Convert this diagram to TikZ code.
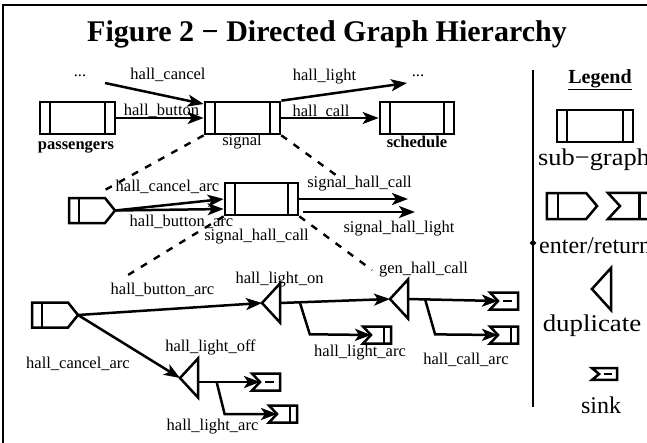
\documentclass[tikz,border=0pt]{standalone}
\usepackage{fontspec}
\setmainfont{Liberation Serif}
\usetikzlibrary{arrows.meta,calc,shapes.geometric}
\begin{document}
\begin{tikzpicture}[x=1pt,y=-1pt,
  wire/.style={line width=2.5pt},
  arr/.style={wire,-{Stealth[length=16pt,width=12pt,inset=4pt]}},
  dashline/.style={line width=2.4pt,dash pattern=on 7pt off 8pt},
  lbl/.style={font=\fontsize{16.5}{18}\selectfont,inner sep=0pt},
  blbl/.style={font=\fontsize{16.5}{18}\selectfont\bfseries,inner sep=0pt},
  leg/.style={font=\fontsize{24}{26}\selectfont,inner sep=0pt},
  subg/.style={draw,line width=2.7pt,minimum width=75pt,minimum height=32pt,inner sep=0pt,
    path picture={\draw[line width=2.7pt]
      ([xshift=10pt]path picture bounding box.north west) -- ([xshift=10pt]path picture bounding box.south west)
      ([xshift=-10pt]path picture bounding box.north east) -- ([xshift=-10pt]path picture bounding box.south east);}},
  enter/.pic={
    \draw[wire] (-23,-12.5) -- (13,-12.5) -- (23,0) -- (13,12.5) -- (-23,12.5) -- cycle;
    \draw[wire] (-13,-12.5) -- (-13,12.5);
    \coordinate (-tip) at (23,0);},
  dup/.pic={
    \draw[wire] (0,-19.5) -- (-18,0) -- (0,19.5) -- cycle;
    \coordinate (-tip) at (-18,0);
    \coordinate (-out) at (0,0);},
  sink/.pic={
    \draw[wire] (-14,-8.5) -- (14,-8.5) -- (14,8.5) -- (-14,8.5) -- (-6,0) -- cycle;
    \draw[wire] (-1,0) -- (8,0);
    \coordinate (-in) at (-6,0);},
  ret/.pic={
    \draw[wire] (-14,-8.5) -- (14,-8.5) -- (14,8.5) -- (-14,8.5) -- (-6,0) -- cycle;
    \draw[wire] (7,-8.5) -- (7,8.5);
    \coordinate (-in) at (-6,0);}
]
\useasboundingbox (0,0) rectangle (647,442);
\begin{scope}
\clip (0,0) rectangle (647,442);
% outer frame
\draw[line width=2.5pt] (3,460) -- (3,5) -- (680,5);

% title
\node[font=\fontsize{30}{32}\selectfont\bfseries,inner sep=0pt] (title) at (327,34) {Figure 2 − Directed Graph Hierarchy};

% ---------- top level ----------
\node[subg] (passengers) at (77.5,118) {};
\node[subg] (signal) at (242.5,118) {};
\node[subg,minimum width=74pt] (schedule) at (417,118) {};
\node[blbl] (passLbl) at (76,147) {passengers};
\node[lbl] (sigLbl) at (242,142) {signal};
\node[blbl] (schLbl) at (417,142) {schedule};
\node[lbl] (dotsL) at (80,76) {...};
\node[lbl] (dotsR) at (418,76) {...};
\coordinate (cancelFrom) at (105,83);
\coordinate (lightTo) at (407,83);

\draw[arr] (cancelFrom) -- ([yshift=14pt]signal.west);
\draw[arr] (passengers.east) -- (signal.west);
\draw[arr] (signal.north east) -- (lightTo);
\draw[arr] (signal.east) -- (schedule.west);
\node[lbl] (l1a) at (168,75) {hall\_cancel};
\node[lbl] (l1b) at (161.5,111) {hall\_button};
\node[lbl] (l1c) at (324.5,77) {hall\_light};
\node[lbl] (l1d) at (321,112) {hall\_call};

\coordinate (dashL1) at (105,190);
\coordinate (dashR1) at (340,178);
\draw[dashline] (signal.south west) -- (dashL1);
\draw[dashline] (signal.south east) -- (dashR1);

% ---------- second level ----------
\pic (enterB) at (92,210.5) {enter};
\node[subg,minimum width=73pt] (boxB) at (261.5,199) {};
\coordinate (shcTo) at (408,199);
\coordinate (shlFrom) at (303,212);
\coordinate (shlTo) at (415,212);
\draw[arr] (enterB-tip) -- (boxB.west);
\draw[arr] (enterB-tip) -- ([yshift=-10pt]boxB.west);
\draw[arr] (boxB.east) -- (shcTo);
\draw[arr] (shlFrom) -- (shlTo);
\node[lbl] (l2a) at (167.5,187) {hall\_cancel\_arc};
\node[lbl] (l2b) at (181.5,222) {hall\_button\_arc};
\node[lbl] (l2c) at (256.5,237) {signal\_hall\_call};
\node[lbl] (l2d) at (359.5,184) {signal\_hall\_call};
\node[lbl] (l2e) at (399,229) {signal\_hall\_light};

\coordinate (dashL2) at (128,275);
\coordinate (dashR2) at (372,270);
\draw[dashline] (boxB.south west) -- (dashL2);
\draw[dashline] (boxB.south east) -- (dashR2);

% ---------- third level ----------
\pic (enterC) at (55,315) {enter};
\pic (dupA) at (280,303) {dup};
\pic (dupB) at (408,299) {dup};
\pic (dupC) at (198,378) {dup};
\pic (sinkA) at (504,301) {sink};
\pic (retA) at (504,335) {ret};
\pic (retB) at (377,335) {ret};
\pic (sinkC) at (266,382) {sink};
\pic (retC) at (283,414) {ret};

\draw[arr] (enterC-tip) -- (dupA-tip);
\draw[arr] (enterC-tip) -- (dupC-tip);
\draw[arr] (dupA-out) -- (dupB-tip);
\draw[arr] ($(dupA-out)!0.18!(dupB-tip)$) -- ++(10,32) -- (retB-in);
\draw[arr] (dupB-out) -- (sinkA-in);
\draw[arr] ($(dupB-out)!0.19!(sinkA-in)$) -- ++(10,35) -- (retA-in);
\draw[arr] ([yshift=-4pt]dupC-out) -- (sinkC-in);
\draw[arr] ($([yshift=-4pt]dupC-out)!0.3!(sinkC-in)$) -- ++(8,32) -- (retC-in);

\node[lbl] (l3a) at (162.5,290) {hall\_button\_arc};
\node[lbl] (l3b) at (279.5,280) {hall\_light\_on};
\node[lbl] (l3c) at (423.5,270) {gen\_hall\_call};
\node[lbl] (l3d) at (360,353) {hall\_light\_arc};
\node[lbl] (l3e) at (466,360) {hall\_call\_arc};
\node[lbl] (l3f) at (78,364) {hall\_cancel\_arc};
\node[lbl] (l3g) at (210.5,347) {hall\_light\_off};
\node[lbl] (l3h) at (212.5,427) {hall\_light\_arc};

% ---------- legend ----------
\draw[line width=2.2pt] (533,70) -- (533,407);
\node[diamond,fill,inner sep=0pt,minimum size=7pt] (legDot) at (533,243) {};
\node[font=\fontsize{20}{22}\selectfont\bfseries,inner sep=0pt] (legTitle) at (600,80) {\underline{Legend}};
\node[subg,minimum width=76pt] (legSub) at (595,126) {};
\node[leg,anchor=west,xscale=1.1,transform shape] (legSubLbl) at (538,160) {sub−graph};
\pic[xscale=1.09,yscale=1.04] (legEnter) at (572,206) {enter};
\pic[xscale=1.5,yscale=1.53] (legRet) at (629,206) {ret};
\node[leg,anchor=west] (legEnterLbl) at (539,246) {enter/return};
\pic[xscale=1.06,yscale=1.08] (legDup) at (611,289) {dup};
\node[leg,xscale=1.12,transform shape] (legDupLbl) at (592,326) {duplicate};
\pic[xscale=0.9,yscale=0.7] (legSink) at (604.5,374) {sink};
\node[leg] (legSinkLbl) at (601,405) {sink};
\end{scope}
\end{tikzpicture}
\end{document}
